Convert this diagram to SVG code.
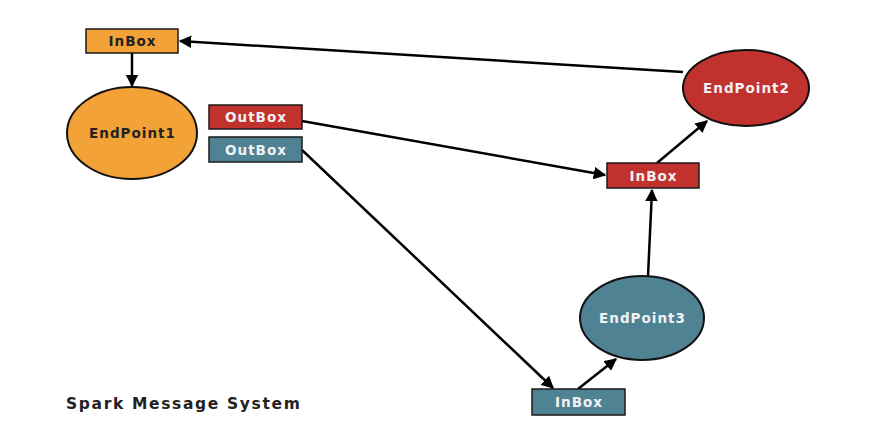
<svg xmlns="http://www.w3.org/2000/svg" width="888" height="430" viewBox="0 0 888 430">
<style>
.box{stroke:#1a1a1a;stroke-width:1.5}
.ell{stroke:#111;stroke-width:2}
.or{fill:#F2A236}
.rd{fill:#C1312E}
.tl{fill:#4F8293}
.lbl{font-family:"DejaVu Sans",sans-serif;font-weight:bold;font-size:13.5px;text-anchor:middle;letter-spacing:1px}
.dark{fill:#222}
.light{fill:#f2f2f2}
.edge{stroke:#000;stroke-width:2.5;fill:none;marker-end:url(#ah)}
</style>
<defs>
<marker id="ah" viewBox="0 0 10 10" refX="9" refY="5" markerWidth="5" markerHeight="5" orient="auto" markerUnits="strokeWidth">
<path d="M0,0 L10,5 L0,10 z" fill="#000"/>
</marker>
</defs>
<rect width="888" height="430" fill="#fff"/>
<g id="connectors">
<line class="edge" x1="683" y1="72" x2="180" y2="41"/>
<line class="edge" x1="132" y1="53" x2="132" y2="86"/>
<line class="edge" x1="302" y1="121" x2="605" y2="175"/>
<line class="edge" x1="302" y1="150" x2="553" y2="388"/>
<line class="edge" x1="578" y1="389" x2="616" y2="359"/>
<line class="edge" x1="648" y1="276" x2="652" y2="190"/>
<line class="edge" x1="657" y1="163" x2="707" y2="121"/>
</g>
<g id="inbox1">
<rect class="box or" x="86" y="29" width="92" height="24"/>
<text class="lbl dark" x="132.5" y="46">InBox</text>
</g>
<g id="endpoint1">
<ellipse class="ell or" cx="132" cy="133" rx="65" ry="46"/>
<text class="lbl dark" x="132.5" y="138">EndPoint1</text>
</g>
<g id="outbox-red">
<rect class="box rd" x="209" y="105" width="93" height="24"/>
<text class="lbl light" x="256" y="122">OutBox</text>
</g>
<g id="outbox-teal">
<rect class="box tl" x="209" y="137" width="93" height="25"/>
<text class="lbl light" x="256" y="154.5">OutBox</text>
</g>
<g id="endpoint2">
<ellipse class="ell rd" cx="746" cy="88" rx="63" ry="38"/>
<text class="lbl light" x="746.5" y="93">EndPoint2</text>
</g>
<g id="inbox2">
<rect class="box rd" x="607" y="163" width="92" height="25"/>
<text class="lbl light" x="653.5" y="180.5">InBox</text>
</g>
<g id="endpoint3">
<ellipse class="ell tl" cx="642" cy="318" rx="62" ry="42"/>
<text class="lbl light" x="642.5" y="323">EndPoint3</text>
</g>
<g id="inbox3">
<rect class="box tl" x="532" y="389" width="93" height="26"/>
<text class="lbl light" x="579" y="407">InBox</text>
</g>
<text x="66" y="409" font-family="DejaVu Sans, sans-serif" font-weight="bold" font-size="15.5" fill="#222" letter-spacing="1.65">Spark Message System</text>
</svg>
